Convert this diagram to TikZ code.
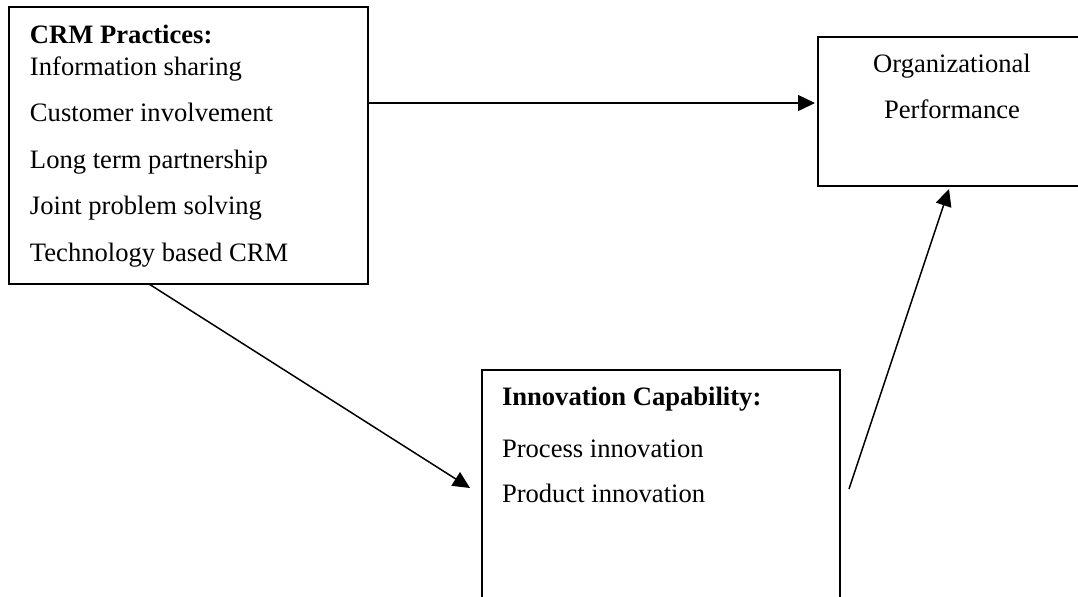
\documentclass[tikz,border=0pt]{standalone}
\usepackage{fontspec}
\setmainfont{Liberation Serif}
\usetikzlibrary{arrows.meta, positioning, calc}

\begin{document}
\begin{tikzpicture}[x=0.5pt, y=-0.5pt, >={Triangle[length=8.5pt,width=8pt]}, font=\fontsize{13.3pt}{16pt}\selectfont]
            \tikzset{box/.style={draw, line width=1pt, inner sep=0pt, outer sep=0pt, anchor=north west},
                     txt/.style={inner sep=0pt, outer sep=0pt, align=left},
                     link/.style={->, line width=0.75pt}}
            \useasboundingbox (0,0) rectangle (1078,596);
            % boxes
            \node[box, minimum width=179.5pt, minimum height=138.5pt] (crm) at (9,7) {};
            \node[box, minimum width=134pt, minimum height=74.5pt] (org) at (818,37) {};
            \node[box, minimum width=179pt, minimum height=130pt] (inno) at (482,370) {};
            % texts
            \node[txt, below right=9pt and 10.5pt of crm.north west] (crmtext) {\textbf{CRM Practices:}\\ Information sharing\\[7.25pt] Customer involvement\\[7.25pt] Long term partnership\\[7.25pt] Joint problem solving\\[7.25pt] Technology based CRM};
            \node[txt, align=center, below=8.5pt of org.north] (orgtext) {Organizational\\[7pt] Performance};
            \node[txt, below right=8.5pt and 10pt of inno.north west] (innotext) {\textbf{Innovation Capability:}\\[10pt] Process innovation\\[6.5pt] Product innovation};

            \coordinate (crmout) at ($(crm.north east)!0.3466!(crm.south east)$);
            \coordinate (orgin) at (crmout -| org.west);
            \coordinate (crmdown) at ($(crm.south west)!0.39!(crm.south east)$);
            \draw[link] (crmout) -- ([xshift=-1.5pt]orgin);
            \draw[link] (crmdown) -- ([shift={(-6pt,-59pt)}]inno.north west);
            \draw[link] ([shift={(4.5pt,-59.5pt)}]inno.north east) -- ([shift={(65.5pt,-1.5pt)}]org.south west);
\end{tikzpicture}
\end{document}
